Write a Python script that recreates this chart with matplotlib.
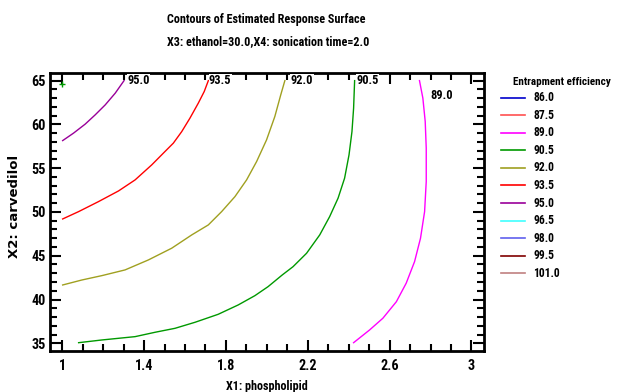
import numpy as np
import matplotlib
matplotlib.use('agg')
from matplotlib import pyplot as plt
from matplotlib import font_manager as fm
from matplotlib.ticker import MultipleLocator

# look for a narrow / condensed bold sans face; fall back to Liberation Sans
def pick_font():
    prefs = [('liberation sans narrow', 1.0), ('arial narrow', 1.0),
             ('roboto condensed', 0.97), ('open sans condensed', 0.95),
             ('noto sans', 0.93), ('dejavu sans', 0.9), ('roboto', 0.97)]
    cands = [f for f in fm.fontManager.ttflist
             if f.style == 'normal'
             and (f.weight in ('bold', 700) or str(f.weight) == '700')
             and ('narrow' in f.name.lower() or 'condensed' in f.name.lower()
                  or 'condensed' in str(f.stretch) or 'Condensed' in f.fname
                  or 'Narrow' in f.fname)
             and 'semi' not in f.fname.lower() and 'extra' not in f.fname.lower()]
    for key, k in prefs:
        for f in cands:
            if key in f.name.lower():
                return f.fname, k
    path = fm.findfont(fm.FontProperties(family='Liberation Sans', weight='bold'))
    return path, 0.87

font_path, k = pick_font()

def fp(size):
    return fm.FontProperties(fname=font_path, size=size)

# contour levels shown in the legend and their colours
levels = [86.0, 87.5, 89.0, 90.5, 92.0, 93.5, 95.0, 96.5, 98.0, 99.5, 101.0]
level_colors = ['#0000cc', '#ff5050', '#ff00ff', '#009900', '#a0a020', '#ff0000',
                '#990099', '#40ffff', '#6060ee', '#800000', '#c08080']

# contour lines (x1 = phospholipid, x2 = carvedilol)
c95_x = [1.002, 1.055, 1.112, 1.161, 1.21, 1.259, 1.302]
c95_y = [58.15, 59.0, 60.03, 61.09, 62.23, 63.57, 65.0]

c935_x = [1.002, 1.08, 1.177, 1.275, 1.356, 1.4375, 1.502, 1.543, 1.584, 1.624,
          1.665, 1.694, 1.714]
c935_y = [49.2, 50.04, 51.18, 52.4, 53.66, 55.38, 56.9, 57.86, 59.18, 60.71,
          62.43, 63.76, 65.0]

c92_x = [1.002, 1.096, 1.194, 1.307, 1.421, 1.535, 1.633, 1.714, 1.779, 1.844,
         1.901, 1.95, 1.9985, 2.039, 2.068, 2.088]
c92_y = [41.66, 42.23, 42.73, 43.38, 44.52, 45.86, 47.38, 48.52, 50.04, 51.75,
         53.66, 55.76, 58.23, 60.9, 63.38, 65.0]

c905_x = [1.08, 1.194, 1.356, 1.454, 1.551, 1.649, 1.762, 1.86, 1.9415, 2.006,
          2.075, 2.128, 2.194, 2.2585, 2.307, 2.348, 2.38, 2.4016, 2.416, 2.424, 2.429]
c905_y = [35.07, 35.38, 35.76, 36.26, 36.71, 37.4, 38.31, 39.38, 40.44, 41.47,
          42.8, 43.75, 45.28, 47.38, 49.47, 51.57, 53.86, 56.52, 59.18, 61.86, 65.0]

c89_x = [2.424, 2.502, 2.567, 2.633, 2.681, 2.722, 2.751, 2.771, 2.779, 2.779,
         2.774, 2.7625, 2.746]
c89_y = [35.07, 36.52, 37.86, 39.75, 41.86, 44.33, 47.0, 50.04, 53.47, 57.29,
         60.33, 63.0, 65.0]

lines = [(95.0, c95_x, c95_y), (93.5, c935_x, c935_y), (92.0, c92_x, c92_y),
         (90.5, c905_x, c905_y), (89.0, c89_x, c89_y)]
label_pos = {95.0: (1.32, 65.0), 93.5: (1.717, 65.0), 92.0: (2.117, 65.0),
             90.5: (2.437, 65.0), 89.0: (2.798, 63.3)}

fig = plt.figure(figsize=(6.17, 3.92), dpi=100)
ax = fig.add_axes([0.081, 0.1046, 0.703, 0.7094])

col = dict(zip(levels, level_colors))
for lev, xs, ys in lines:
    ax.plot(xs, ys, color=col[lev], lw=1.0)
    lx, ly = label_pos[lev]
    ax.text(lx, ly, '%.1f' % lev, fontproperties=fp(9.2 * k), va='center',
            ha='left', zorder=5,
            bbox=dict(facecolor='white', edgecolor='none', pad=0.3))

ax.plot([1.0], [64.6], marker='+', color='#009900', ms=4, mew=1)

ax.set_xlim(0.94, 3.06)
ax.set_ylim(34.12, 65.88)
ax.xaxis.set_minor_locator(MultipleLocator(0.1))
ax.yaxis.set_major_locator(MultipleLocator(5))
ax.yaxis.set_minor_locator(MultipleLocator(1))
ax.set_xticks([1, 1.4, 1.8, 2.2, 2.6, 3])
ax.set_xticklabels(['1', '1.4', '1.8', '2.2', '2.6', '3'])
ax.tick_params(which='both', direction='in', top=True, right=True, width=1.5)
ax.tick_params(axis='x', pad=6)
ax.tick_params(axis='y', pad=3)
ax.tick_params(which='major', length=8)
ax.tick_params(which='minor', length=5)
for lab in ax.get_xticklabels() + ax.get_yticklabels():
    lab.set_fontproperties(fp(10.5 * k))
for s in ax.spines.values():
    s.set_linewidth(2)

ax.set_xlabel('X1: phospholipid', fontproperties=fp(9 * k))
ax.xaxis.set_label_coords(0.5, -0.104)
ax.set_ylabel('X2: carvedilol', fontsize=9.5, fontweight='bold',
              family=['DejaVu Sans'])
ax.yaxis.set_label_coords(-0.067, 0.52)

fig.text(0.431, 0.951, 'Contours of Estimated Response Surface', ha='center',
         va='center', fontproperties=fp(9.0 * k))
fig.text(0.434, 0.895, 'X3: ethanol=30.0,X4: sonication time=2.0', ha='center',
         va='center', fontproperties=fp(9.0 * k))

# legend
fig.text(0.831, 0.7916, 'Entrapment efficiency', fontproperties=fp(8.3 * k),
         va='center')
for i, (lev, c) in enumerate(zip(levels, level_colors)):
    yy = 0.7508 - i * 0.0448
    fig.add_artist(plt.Line2D([0.812, 0.851], [yy, yy], color=c, lw=1.2,
                              transform=fig.transFigure))
    fig.text(0.864, yy, '%.1f' % lev, fontproperties=fp(8.6 * k), va='center')

fig.savefig('out.png', dpi=100)
